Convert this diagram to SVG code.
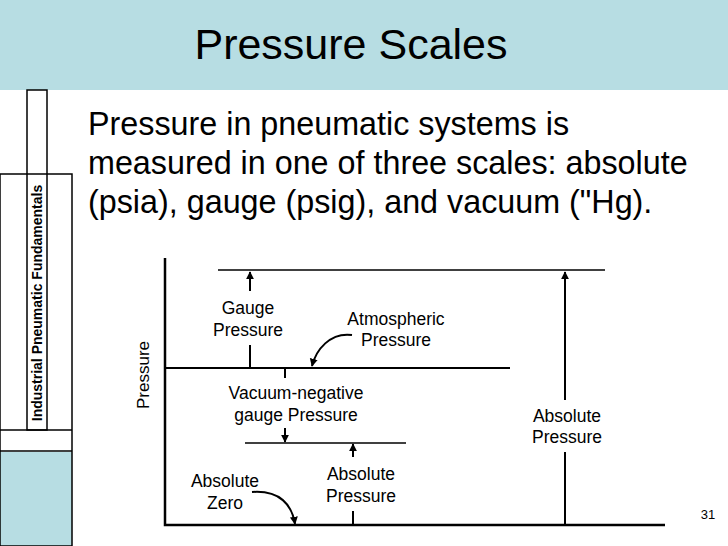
<svg xmlns="http://www.w3.org/2000/svg" width="728" height="546" viewBox="0 0 728 546">
<defs>
<marker id="ah" viewBox="0 0 10 10" refX="9" refY="5" markerWidth="4" markerHeight="5" orient="auto" markerUnits="strokeWidth"><path d="M0,0L10,5L0,10z" fill="#000"/></marker>
</defs>
<style>
text{font-family:"Liberation Sans",Arial,sans-serif;fill:#000}
.l{font-size:17.5px;text-anchor:middle}
.ln{stroke:#000;fill:none}
</style>
<rect width="728" height="546" fill="#fff"/>
<rect width="728" height="90" fill="#b7dde3"/>
<text x="351" y="59" font-size="43" text-anchor="middle">Pressure Scales</text>
<g id="sidebar">
<rect x="0" y="452" width="72" height="94" fill="#b7dde3"/>
<rect x="0" y="174" width="72" height="372" class="ln" stroke-width="1.5"/>
<rect x="27" y="90" width="20" height="340" class="ln" stroke-width="1.5"/>
<line x1="0" y1="430" x2="72" y2="430" class="ln" stroke-width="1.5"/>
<line x1="0" y1="451" x2="72" y2="451" class="ln" stroke-width="1.5"/>
<text transform="translate(42,303) rotate(-90)" font-size="14" font-weight="bold" text-anchor="middle">Industrial Pneumatic Fundamentals</text>
</g>
<text font-size="32.3"><tspan x="88" y="135">Pressure in pneumatic systems is</tspan><tspan x="88" y="174">measured in one of three scales: absolute</tspan><tspan x="88" y="213">(psia), gauge (psig), and vacuum ("Hg).</tspan></text>
<g id="connectors" class="ln">
<path d="M165,258V525H665" stroke-width="2.5"/>
<line x1="218" y1="270" x2="605" y2="270" stroke-width="1.3"/>
<line x1="165" y1="368" x2="510" y2="368" stroke-width="2"/>
<line x1="245" y1="443" x2="406" y2="443" stroke-width="1.3"/>
<line x1="250" y1="291" x2="250" y2="272" stroke-width="2" marker-end="url(#ah)"/>
<line x1="250" y1="345" x2="250" y2="368" stroke-width="2"/>
<line x1="285" y1="368" x2="285" y2="378" stroke-width="2"/>
<line x1="285" y1="428" x2="285" y2="442" stroke-width="2" marker-end="url(#ah)"/>
<line x1="353" y1="457" x2="353" y2="444" stroke-width="2" marker-end="url(#ah)"/>
<line x1="353" y1="511" x2="353" y2="525" stroke-width="2"/>
<line x1="565" y1="400" x2="565" y2="272" stroke-width="2" marker-end="url(#ah)"/>
<line x1="565" y1="452" x2="565" y2="525" stroke-width="2"/>
<path d="M352,335C330,332 316,350 312,366" stroke-width="2" marker-end="url(#ah)"/>
<path d="M252,492C280,490 292,505 295,524" stroke-width="2" marker-end="url(#ah)"/>
</g>
<text transform="translate(149,375) rotate(-90)" font-size="17" text-anchor="middle">Pressure</text>
<g id="labels">
<text class="l"><tspan x="248" y="314">Gauge</tspan><tspan x="248" y="336">Pressure</tspan></text>
<text class="l"><tspan x="396" y="325">Atmospheric</tspan><tspan x="396" y="346">Pressure</tspan></text>
<text class="l"><tspan x="296" y="399">Vacuum-negative</tspan><tspan x="296" y="421">gauge Pressure</tspan></text>
<text class="l"><tspan x="567" y="422">Absolute</tspan><tspan x="567" y="443">Pressure</tspan></text>
<text class="l"><tspan x="225" y="487">Absolute</tspan><tspan x="225" y="509">Zero</tspan></text>
<text class="l"><tspan x="361" y="480">Absolute</tspan><tspan x="361" y="502">Pressure</tspan></text>
</g>
<text x="708" y="519" font-size="13" text-anchor="middle">31</text>
</svg>
